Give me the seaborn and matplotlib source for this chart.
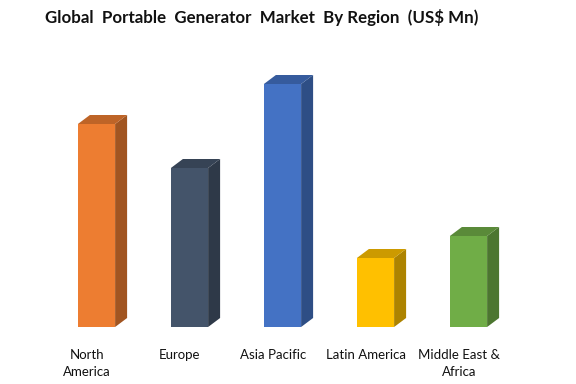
import matplotlib
matplotlib.use("Agg")
import matplotlib.pyplot as plt
import seaborn as sns
import pandas as pd
import numpy as np
from matplotlib.patches import Polygon
from matplotlib.colors import to_rgb

regions = ["North\nAmerica", "Europe", "Asia Pacific", "Latin America", "Middle East &\nAfrica"]
values = [203, 159, 243, 69, 91]
colors = ["#ED7D31", "#44546A", "#4472C4", "#FFC000", "#70AD47"]

sns.set_theme(style="white")
plt.rcParams['font.family'] = ['Lato', 'DejaVu Sans']

W, H, DPI = 5.76, 3.84, 100
fig = plt.figure(figsize=(W, H), dpi=DPI)
ax_left, ax_right = 40.5, 505.5
ax_bot, ax_top = 57, 324
ax = fig.add_axes([ax_left / 576, ax_bot / 384, (ax_right - ax_left) / 576, (ax_top - ax_bot) / 384])

df = pd.DataFrame({"region": regions, "value": values})
sns.barplot(data=df, x="region", y="value", hue="region", palette=colors,
            width=0.4, legend=False, ax=ax, saturation=1, linewidth=0)

ax.set_xlim(-0.5, len(regions) - 0.5)
ax.set_ylim(0, ax_top - ax_bot)

# pixels -> data units
px_x = len(regions) / (ax_right - ax_left)
px_y = 1.0
shift = 9.5 * px_x
dx, dy = 12 * px_x, 9 * px_y

def shade(c, f):
    r, g, b = to_rgb(c)
    return (r * f, g * f, b * f)

for patch, col in zip(ax.patches, colors):
    patch.set_x(patch.get_x() + shift)
    x0 = patch.get_x()
    w = patch.get_width()
    h = patch.get_height()
    x1 = x0 + w
    side = Polygon([(x1, 0), (x1 + dx, dy), (x1 + dx, h + dy), (x1, h)],
                   closed=True, facecolor=shade(col, 0.68), edgecolor="none", zorder=patch.get_zorder())
    top = Polygon([(x0, h), (x0 + dx, h + dy), (x1 + dx, h + dy), (x1, h)],
                  closed=True, facecolor=shade(col, 0.8), edgecolor="none", zorder=patch.get_zorder())
    ax.add_patch(side)
    ax.add_patch(top)

ax.set_xlabel("")
ax.set_ylabel("")
ax.set_yticks([])
ax.set_xticks(range(len(regions)))
ax.set_xticklabels(regions, fontsize=9.5, color="#111111", linespacing=1.5, va="top")
ax.tick_params(axis="x", length=0, pad=16)
for s in ax.spines.values():
    s.set_visible(False)

fig.text(262 / 576, 1 - 18 / 384, "Global  Portable  Generator  Market  By Region  (US$ Mn)",
         ha="center", va="center", fontsize=12.2, fontweight="bold", color="#111111")

fig.savefig("out.png", dpi=DPI, facecolor="white")
